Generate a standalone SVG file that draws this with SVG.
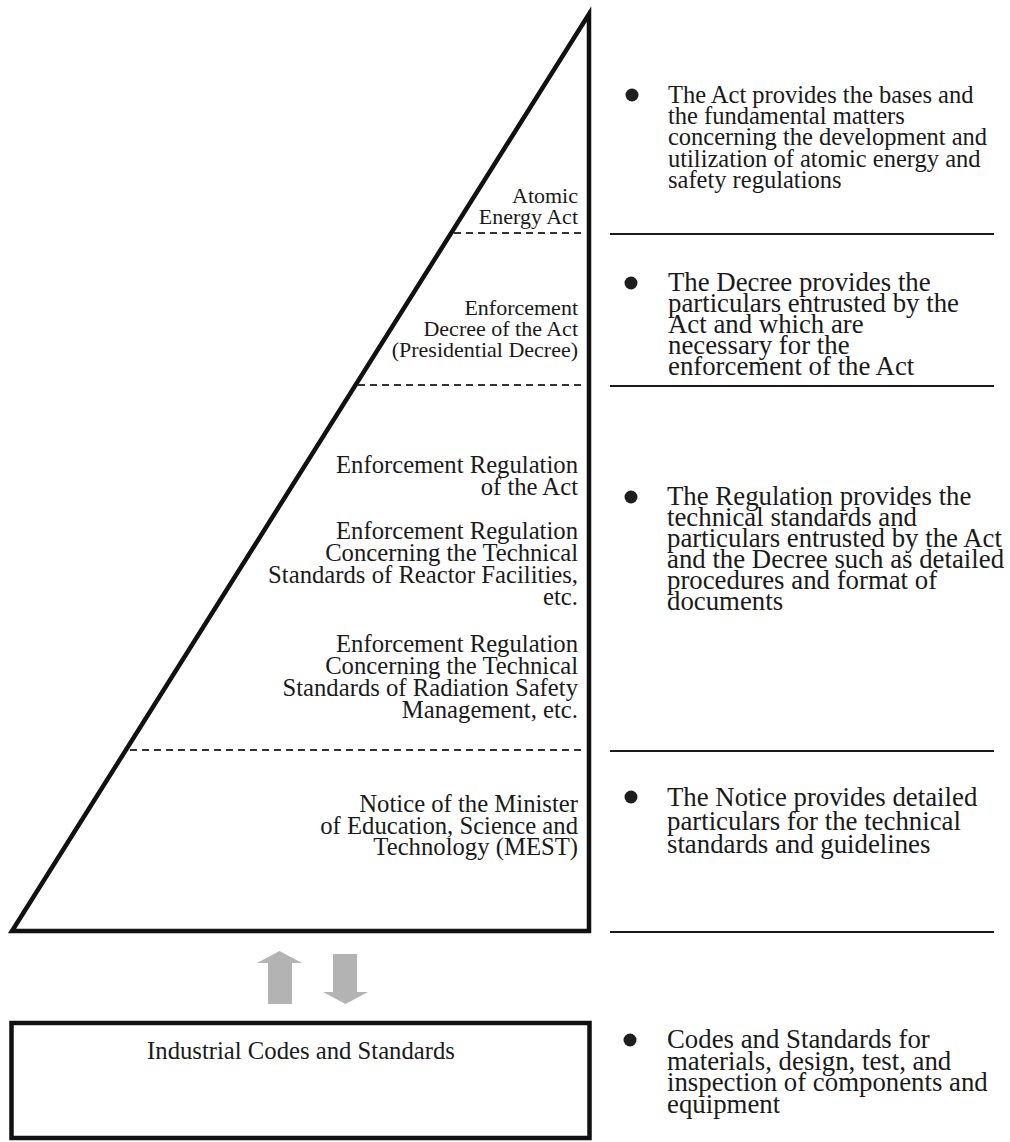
<svg xmlns="http://www.w3.org/2000/svg" width="1010" height="1142" viewBox="0 0 1010 1142">
<style>
  .t { font-family: "Liberation Serif", "Times New Roman", serif; fill: #1a1a1a; }
  .lbl { font-size: 24.7px; text-anchor: end; }
  .lbs { font-size: 22px; text-anchor: end; }
  .desc { font-size: 26.8px; }
  .descs { font-size: 24.5px; }
  .dash { stroke: #333; stroke-width: 2; stroke-dasharray: 7 5; fill: none; }
  .sep { stroke: #1a1a1a; stroke-width: 2; fill: none; }
  .bul { fill: #1e1e1e; }
  .arr { fill: #b3b3b3; }
</style>
<rect x="0" y="0" width="1010" height="1142" fill="#ffffff"/>

<g id="pyramid">
  <path d="M589,14 L589,931 L12,931 Z" fill="none" stroke="#111" stroke-width="4.5" stroke-linejoin="miter"/>
  <line class="dash" x1="454" y1="233" x2="586" y2="233"/>
  <line class="dash" x1="358" y1="385" x2="586" y2="385"/>
  <line class="dash" x1="130" y1="750" x2="586" y2="750"/>
</g>

<g id="separators">
  <line class="sep" x1="610" y1="234" x2="994" y2="234"/>
  <line class="sep" x1="610" y1="386" x2="994" y2="386"/>
  <line class="sep" x1="610" y1="751" x2="994" y2="751"/>
  <line class="sep" x1="610" y1="932" x2="994" y2="932"/>
</g>

<g id="atomic-energy-act">
  <text class="t lbs" x="578" y="203">Atomic<tspan x="578" dy="21">Energy Act</tspan></text>
</g>

<g id="enforcement-decree">
  <text class="t lbs" x="578" y="315">Enforcement<tspan x="578" dy="21">Decree of the Act</tspan><tspan x="578" dy="21">(Presidential Decree)</tspan></text>
</g>

<g id="enforcement-regulation-act">
  <text class="t lbl" x="578" y="473">Enforcement Regulation<tspan x="578" dy="22">of the Act</tspan></text>
</g>

<g id="enforcement-regulation-reactor">
  <text class="t lbl" x="578" y="539">Enforcement Regulation<tspan x="578" dy="22">Concerning the Technical</tspan><tspan x="578" dy="22">Standards of Reactor Facilities,</tspan><tspan x="578" dy="22">etc.</tspan></text>
</g>

<g id="enforcement-regulation-radiation">
  <text class="t lbl" x="578" y="652">Enforcement Regulation<tspan x="578" dy="22">Concerning the Technical</tspan><tspan x="578" dy="22">Standards of Radiation Safety</tspan><tspan x="578" dy="22">Management, etc.</tspan></text>
</g>

<g id="mest-notice">
  <text class="t lbl" x="578" y="812">Notice of the Minister<tspan x="578" dy="21.5">of Education, Science and</tspan><tspan x="578" dy="21.5">Technology (MEST)</tspan></text>
</g>

<g id="industrial-codes">
  <rect x="11.5" y="1023" width="578" height="115" fill="none" stroke="#111" stroke-width="4.5"/>
  <text class="t" x="301" y="1059" font-size="24.7" text-anchor="middle">Industrial Codes and Standards</text>
</g>

<g id="connectors">
  <polygon class="arr" points="279.5,951 302,963 292,963 292,1004 268,1004 268,963 257,963"/>
  <polygon class="arr" points="333,954 357,954 357,992 368,992 345.5,1004 323,992 333,992"/>
</g>

<g id="desc-act">
  <circle class="bul" cx="632" cy="95" r="6.5"/>
  <text class="t descs" x="668" y="103">The Act provides the bases and<tspan x="668" dy="21.2">the fundamental matters</tspan><tspan x="668" dy="21.2">concerning the development and</tspan><tspan x="668" dy="21.2">utilization of atomic energy and</tspan><tspan x="668" dy="21.2">safety regulations</tspan></text>
</g>

<g id="desc-decree">
  <circle class="bul" cx="631" cy="283" r="6.5"/>
  <text class="t desc" x="668" y="291">The Decree provides the<tspan x="668" dy="21">particulars entrusted by the</tspan><tspan x="668" dy="21">Act and which are</tspan><tspan x="668" dy="21">necessary for the</tspan><tspan x="668" dy="21">enforcement of the Act</tspan></text>
</g>

<g id="desc-regulation">
  <circle class="bul" cx="631" cy="497" r="6.5"/>
  <text class="t desc" x="667" y="505">The Regulation provides the<tspan x="667" dy="21">technical standards and</tspan><tspan x="667" dy="21">particulars entrusted by the Act</tspan><tspan x="667" dy="21">and the Decree such as detailed</tspan><tspan x="667" dy="21">procedures and format of</tspan><tspan x="667" dy="21">documents</tspan></text>
</g>

<g id="desc-notice">
  <circle class="bul" cx="631" cy="797" r="6.5"/>
  <text class="t desc" x="667" y="806">The Notice provides detailed<tspan x="667" dy="23.5">particulars for the technical</tspan><tspan x="667" dy="23.5">standards and guidelines</tspan></text>
</g>

<g id="desc-codes">
  <circle class="bul" cx="630" cy="1040" r="6.5"/>
  <text class="t desc" x="667" y="1048">Codes and Standards for<tspan x="667" dy="21.7">materials, design, test, and</tspan><tspan x="667" dy="21.7">inspection of components and</tspan><tspan x="667" dy="21.7">equipment</tspan></text>
</g>
</svg>
